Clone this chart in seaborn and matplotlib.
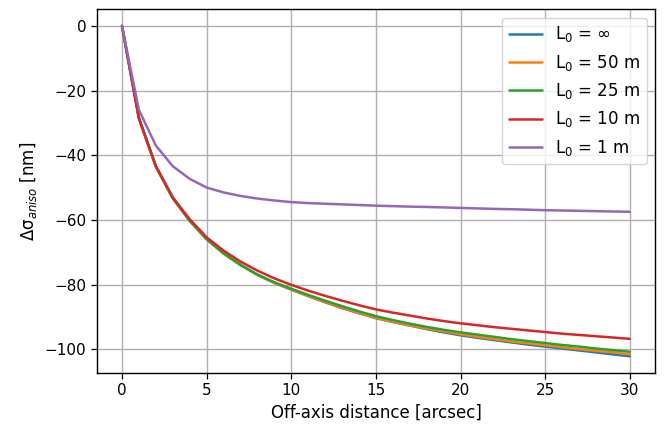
import numpy as np
import pandas as pd
import matplotlib
matplotlib.use("Agg")
import matplotlib.pyplot as plt
import seaborn as sns

# off-axis distance [arcsec]
offaxis = list(range(0, 31))

# delta sigma_aniso [nm] per outer scale
d_inf = [0, -28.6, -43.5, -53.3, -60.3, -66.0, -70.4, -74.0, -77.0, -79.5, -81.6,
         -83.6, -85.5, -87.3, -88.9, -90.4, -91.6, -92.7, -93.8, -94.8, -95.7,
         -96.5, -97.2, -97.9, -98.6, -99.2, -99.8, -100.4, -101.0, -101.6, -102.2]
d_50 = [0, -28.6, -43.5, -53.3, -60.3, -66.0, -70.4, -74.0, -77.0, -79.5, -81.5,
        -83.5, -85.4, -87.1, -88.8, -90.3, -91.5, -92.6, -93.6, -94.5, -95.4,
        -96.2, -96.9, -97.6, -98.2, -98.8, -99.4, -100.0, -100.5, -101.0, -101.6]
d_25 = [0, -28.6, -43.5, -53.3, -60.2, -65.9, -70.3, -73.9, -76.9, -79.3, -81.3,
        -83.2, -85.0, -86.7, -88.3, -89.8, -91.0, -92.1, -93.1, -94.0, -94.8,
        -95.5, -96.2, -96.9, -97.5, -98.1, -98.7, -99.2, -99.8, -100.3, -100.8]
d_10 = [0, -28.5, -43.3, -53.0, -59.8, -65.4, -69.5, -72.9, -75.7, -78.1, -80.1,
        -81.9, -83.5, -85.0, -86.4, -87.7, -88.7, -89.6, -90.5, -91.3, -92.0,
        -92.6, -93.2, -93.7, -94.2, -94.7, -95.2, -95.6, -96.0, -96.4, -96.8]
d_1 = [0, -26.0, -37.0, -43.4, -47.3, -50.0, -51.5, -52.6, -53.4, -54.0, -54.5,
       -54.8, -55.0, -55.2, -55.4, -55.6, -55.75, -55.9, -56.0, -56.15, -56.3,
       -56.45, -56.6, -56.7, -56.85, -57.0, -57.1, -57.2, -57.3, -57.4, -57.5]

labels = ["L$_0$ = $\\infty$", "L$_0$ = 50 m", "L$_0$ = 25 m",
          "L$_0$ = 10 m", "L$_0$ = 1 m"]
series = [d_inf, d_50, d_25, d_10, d_1]

sns.set_style("ticks")
plt.rcParams.update({"font.family": ["DejaVu Sans"], "axes.edgecolor": "black",
                     "text.color": "black", "axes.labelcolor": "black",
                     "xtick.color": "black", "ytick.color": "black"})
colors = sns.color_palette("tab10", 5)

fig = plt.figure(figsize=(6.68, 4.29), dpi=100)
ax = fig.add_axes([0.1446, 0.131, 0.8364, 0.847])

for vals, lab, c in zip(series, labels, colors):
    sns.lineplot(x=offaxis, y=vals, ax=ax, color=c, lw=1.8, label=lab)

ax.grid(True, color="#b0b0b0", lw=1.0)
ax.set_axisbelow(True)
ax.set_xticks([0, 5, 10, 15, 20, 25, 30])
ax.tick_params(labelsize=11, direction="out", length=4, width=0.9)
for s in ax.spines.values():
    s.set_color("black")
    s.set_linewidth(1.0)
ax.set_xlabel("Off-axis distance [arcsec]", fontsize=12)
ax.set_ylabel("Δσ$_{aniso}$ [nm]", fontsize=12)
ax.legend(loc="upper right", fontsize=12, framealpha=0.8)

fig.savefig("out.png", dpi=100)
